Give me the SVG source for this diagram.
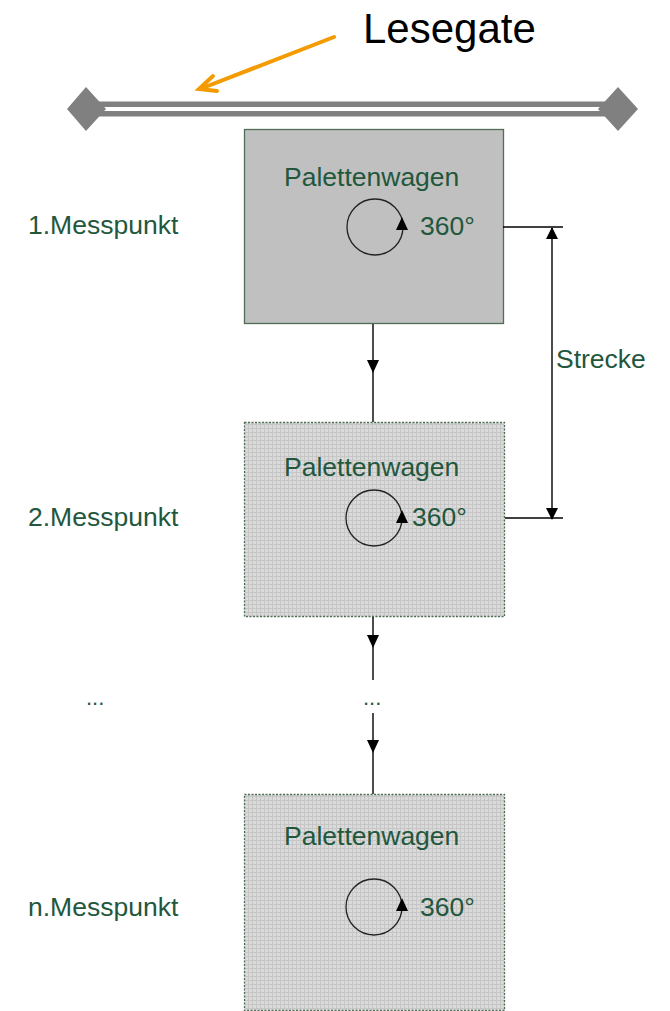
<svg xmlns="http://www.w3.org/2000/svg" width="670" height="1011" viewBox="0 0 670 1011">
<style>
.lbl{font-family:"Liberation Sans",Arial,sans-serif;font-size:26.5px;fill:#22573d}
.ln{stroke:#000;stroke-width:1.4;fill:none}
.ah{fill:#000}
.box1{fill:#c0c0c0;stroke:#4f6e55;stroke-width:1.3}
.boxp{fill:url(#grid);stroke:#4f6e55;stroke-width:1.3;stroke-dasharray:2 1.5}
.rot{fill:none;stroke:#222;stroke-width:1.3}
</style>
<defs>
<pattern id="grid" width="4" height="4" patternUnits="userSpaceOnUse">
<rect width="4" height="4" fill="#dadada"/>
<path d="M0 0.5H4M0.5 0V4" stroke="#c6c6c6" stroke-width="1"/>
</pattern>
<marker id="orh" markerWidth="8" markerHeight="8" refX="1" refY="4" orient="auto" markerUnits="userSpaceOnUse" viewBox="0 0 8 8"/>
</defs>

<g id="gate">
<rect x="95" y="101.5" width="520" height="15" fill="#808080"/>
<line x1="100" y1="109" x2="610" y2="109" stroke="#fff" stroke-width="4"/>
<polygon points="67,109 86,87 106,109 86,131" fill="#808080"/>
<polygon points="598,109 618,87 638,109 618,131" fill="#808080"/>
</g>

<g id="lesegate">
<text x="363" y="43" style="font-family:'Liberation Sans',Arial,sans-serif;font-size:42px;fill:#000">Lesegate</text>
<g stroke="#f39b00" stroke-width="4" stroke-linecap="round" fill="none">
<line x1="334" y1="37" x2="200" y2="89"/>
<polyline points="213,76 199,89 217,91"/>
</g>
</g>

<g id="node1">
<rect class="box1" x="244.5" y="129.5" width="259" height="194"/>
<text class="lbl" x="284" y="186">Palettenwagen</text>
<circle class="rot" cx="375" cy="227" r="28"/>
<polygon class="ah" points="402,217 396,230 408,230"/>
<text class="lbl" x="420" y="235">360°</text>
</g>
<text class="lbl" x="28" y="234">1.Messpunkt</text>

<g id="node2">
<rect class="boxp" x="244.5" y="422.5" width="260" height="194"/>
<text class="lbl" x="284" y="476">Palettenwagen</text>
<circle class="rot" cx="374" cy="518" r="28"/>
<polygon class="ah" points="402,510 396,523 408,523"/>
<text class="lbl" x="412" y="526">360°</text>
</g>
<text class="lbl" x="28" y="526">2.Messpunkt</text>

<g id="noden">
<rect class="boxp" x="244.5" y="794.5" width="260" height="216"/>
<text class="lbl" x="284" y="845">Palettenwagen</text>
<circle class="rot" cx="374" cy="907" r="28"/>
<polygon class="ah" points="402,898 396,911 408,911"/>
<text class="lbl" x="420" y="916">360°</text>
</g>
<text class="lbl" x="28" y="916">n.Messpunkt</text>

<text class="lbl" x="86" y="705" style="font-size:22px">...</text>
<text class="lbl" x="363" y="705" style="font-size:22px">...</text>

<g id="connectors">
<line class="ln" x1="373" y1="324" x2="373" y2="422"/>
<polygon class="ah" points="367,360 379,360 373,373"/>
<line class="ln" x1="373" y1="617" x2="373" y2="680"/>
<polygon class="ah" points="367,635 379,635 373,648"/>
<line class="ln" x1="373" y1="713" x2="373" y2="794"/>
<polygon class="ah" points="367,740 379,740 373,753"/>
<line class="ln" x1="503" y1="227" x2="563" y2="227"/>
<line class="ln" x1="505" y1="518" x2="563" y2="518"/>
<line class="ln" x1="552" y1="228" x2="552" y2="519"/>
<polygon class="ah" points="552,227 546,239 558,239"/>
<polygon class="ah" points="552,520 546,508 558,508"/>
<text class="lbl" x="556" y="368">Strecke</text>
</g>
</svg>
